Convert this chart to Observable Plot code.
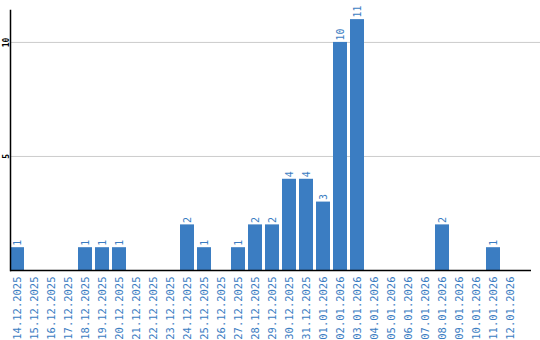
<!DOCTYPE html>
<html>
<head>
<meta charset="utf-8">
<script src="https://cdn.jsdelivr.net/npm/d3@7"></script>
<script src="https://cdn.jsdelivr.net/npm/@observablehq/plot@0.6"></script>
<style>
  html, body { margin: 0; padding: 0; background: #fff; }
  #chart svg { display: block; }
</style>
</head>
<body>
<div id="chart"></div>
<script>
const dates = ["14.12.2025","15.12.2025","16.12.2025","17.12.2025","18.12.2025","19.12.2025","20.12.2025","21.12.2025","22.12.2025","23.12.2025","24.12.2025","25.12.2025","26.12.2025","27.12.2025","28.12.2025","29.12.2025","30.12.2025","31.12.2025","01.01.2026","02.01.2026","03.01.2026","04.01.2026","05.01.2026","06.01.2026","07.01.2026","08.01.2026","09.01.2026","10.01.2026","11.01.2026","12.01.2026"];
const counts = [1,0,0,0,1,1,1,0,0,0,2,1,0,1,2,2,4,4,3,10,11,0,0,0,0,2,0,0,1,0];
const yTicks = [5, 10];

const data = dates.map((d, i) => ({date: d, count: counts[i]}));
const nonzero = data.filter(d => d.count > 0);
const blue = "#3b7dc2";

const chart = Plot.plot({
  width: 540,
  height: 340,
  marginLeft: 10,
  marginRight: 0,
  marginTop: 10,
  marginBottom: 70,
  style: {fontFamily: "DejaVu Sans Mono", background: "#fff"},
  x: {domain: dates, range: [10, 531], paddingInner: 0.18, paddingOuter: 0.41, align: 0, axis: null, label: null},
  y: {domain: [0, 11.4], axis: null, label: null},
  marks: [
    Plot.ruleY(yTicks, {stroke: "#cccccc", strokeWidth: 1}),
    Plot.barY(data, {x: "date", y: "count", fill: blue}),
    Plot.text(nonzero, {x: "date", y: "count", text: d => String(d.count), rotate: -90, textAnchor: "start", dy: -2, fill: blue, fontSize: 10, fontFamily: "DejaVu Sans Mono"}),
    Plot.axisX({tickSize: 0, tickRotate: -90, tickPadding: 6, fill: blue, fontSize: 10.5, fontFamily: "DejaVu Sans Mono", textAnchor: "end", label: null}),
    Plot.axisY(yTicks, {tickSize: 0, tickRotate: -90, tickPadding: 2, fontSize: 8, fontWeight: "bold", fill: "#000", textAnchor: "middle", anchor: "left", fontFamily: "DejaVu Sans Mono", label: null}),
    Plot.ruleY([0], {stroke: "#000", strokeWidth: 1.5, insetRight: 9}),
    Plot.frame({anchor: "left", stroke: "#000", strokeWidth: 1.5})
  ]
});
document.getElementById("chart").appendChild(chart);
</script>
</body>
</html>
